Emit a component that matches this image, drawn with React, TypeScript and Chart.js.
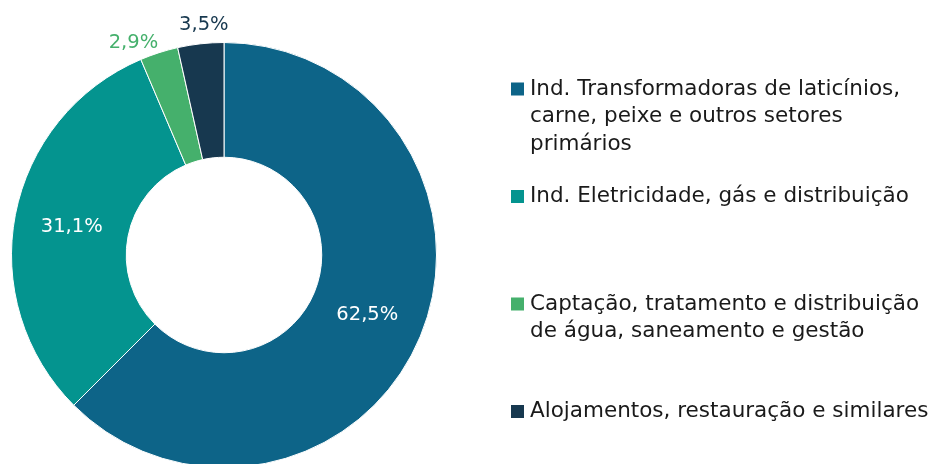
import React, { useEffect, useRef } from "react";
import { Chart, registerables } from "chart.js";

Chart.register(...registerables);

const labels: string[][] = [
  ["Ind. Transformadoras de laticínios,", "carne, peixe e outros setores", "primários"],
  ["Ind. Eletricidade, gás e distribuição"],
  ["Captação, tratamento e distribuição", "de água, saneamento e gestão"],
  ["Alojamentos, restauração e similares"],
];
const values: number[] = [62.5, 31.1, 2.9, 3.5];
const valueLabels: string[] = ["62,5%", "31,1%", "2,9%", "3,5%"];
const colors: string[] = ["#0d6488", "#04948f", "#45b06c", "#17384f"];
const labelColors: string[] = ["#ffffff", "#ffffff", "#45b06c", "#17384f"];
const labelOutside: boolean[] = [false, false, true, true];
const labelAngleShiftDeg: number[] = [0, 0, -5.2, 1.3];

const FONT = '"DejaVu Sans", sans-serif';

const valueLabelPlugin = {
  id: "valueLabels",
  afterDatasetsDraw(chart: any) {
    const ctx = chart.ctx;
    const meta = chart.getDatasetMeta(0);
    ctx.save();
    ctx.font = `19.5px ${FONT}`;
    ctx.textAlign = "center";
    ctx.textBaseline = "middle";
    meta.data.forEach((arc: any, i: number) => {
      const { x, y, startAngle, endAngle, innerRadius, outerRadius } = arc.getProps(
        ["x", "y", "startAngle", "endAngle", "innerRadius", "outerRadius"],
        true
      );
      const mid = (startAngle + endAngle) / 2 + (labelAngleShiftDeg[i] * Math.PI) / 180;
      const r = labelOutside[i] ? outerRadius + 19 : (innerRadius + outerRadius) / 2;
      ctx.fillStyle = labelColors[i];
      ctx.fillText(valueLabels[i], x + Math.cos(mid) * r, y + Math.sin(mid) * r + 1);
    });
    ctx.restore();
  },
};

const legendPlugin = {
  id: "sideLegend",
  afterDraw(chart: any) {
    const ctx = chart.ctx;
    ctx.save();
    ctx.font = `21.5px ${FONT}`;
    ctx.textAlign = "left";
    ctx.textBaseline = "middle";
    const boxX = 511;
    const textX = 530;
    const startY = 89;
    const step = 107.5;
    const lineH = 27.5;
    labels.forEach((lines, i) => {
      const y0 = startY + i * step;
      ctx.fillStyle = colors[i];
      ctx.fillRect(boxX, y0 - 6.5, 13, 13);
      ctx.fillStyle = "#1a1a1a";
      lines.forEach((ln, j) => ctx.fillText(ln, textX, y0 + j * lineH));
    });
    ctx.restore();
  },
};

export default function App() {
  const ref = useRef<HTMLCanvasElement | null>(null);
  useEffect(() => {
    document.body.style.margin = "0";
    document.body.style.overflow = "hidden";
    const chart = new Chart(ref.current as HTMLCanvasElement, {
      type: "doughnut",
      data: {
        labels: labels.map((l) => l.join(" ")),
        datasets: [
          {
            data: values,
            backgroundColor: colors,
            borderColor: "#ffffff",
            borderWidth: 1,
          },
        ],
      },
      options: {
        responsive: false,
        animation: false,
        devicePixelRatio: 1,
        cutout: "46%",
        layout: { padding: { left: 11, right: 493, top: 42, bottom: 42 } },
        plugins: {
          legend: { display: false },
          tooltip: { enabled: false },
        },
      },
      plugins: [valueLabelPlugin, legendPlugin],
    });
    return () => chart.destroy();
  }, []);
  return (
    <div style={{ position: "fixed", left: 0, top: 0, width: 930, height: 510 }}>
      <canvas ref={ref} width={930} height={510} style={{ display: "block", width: 930, height: 510 }} />
    </div>
  );
}
